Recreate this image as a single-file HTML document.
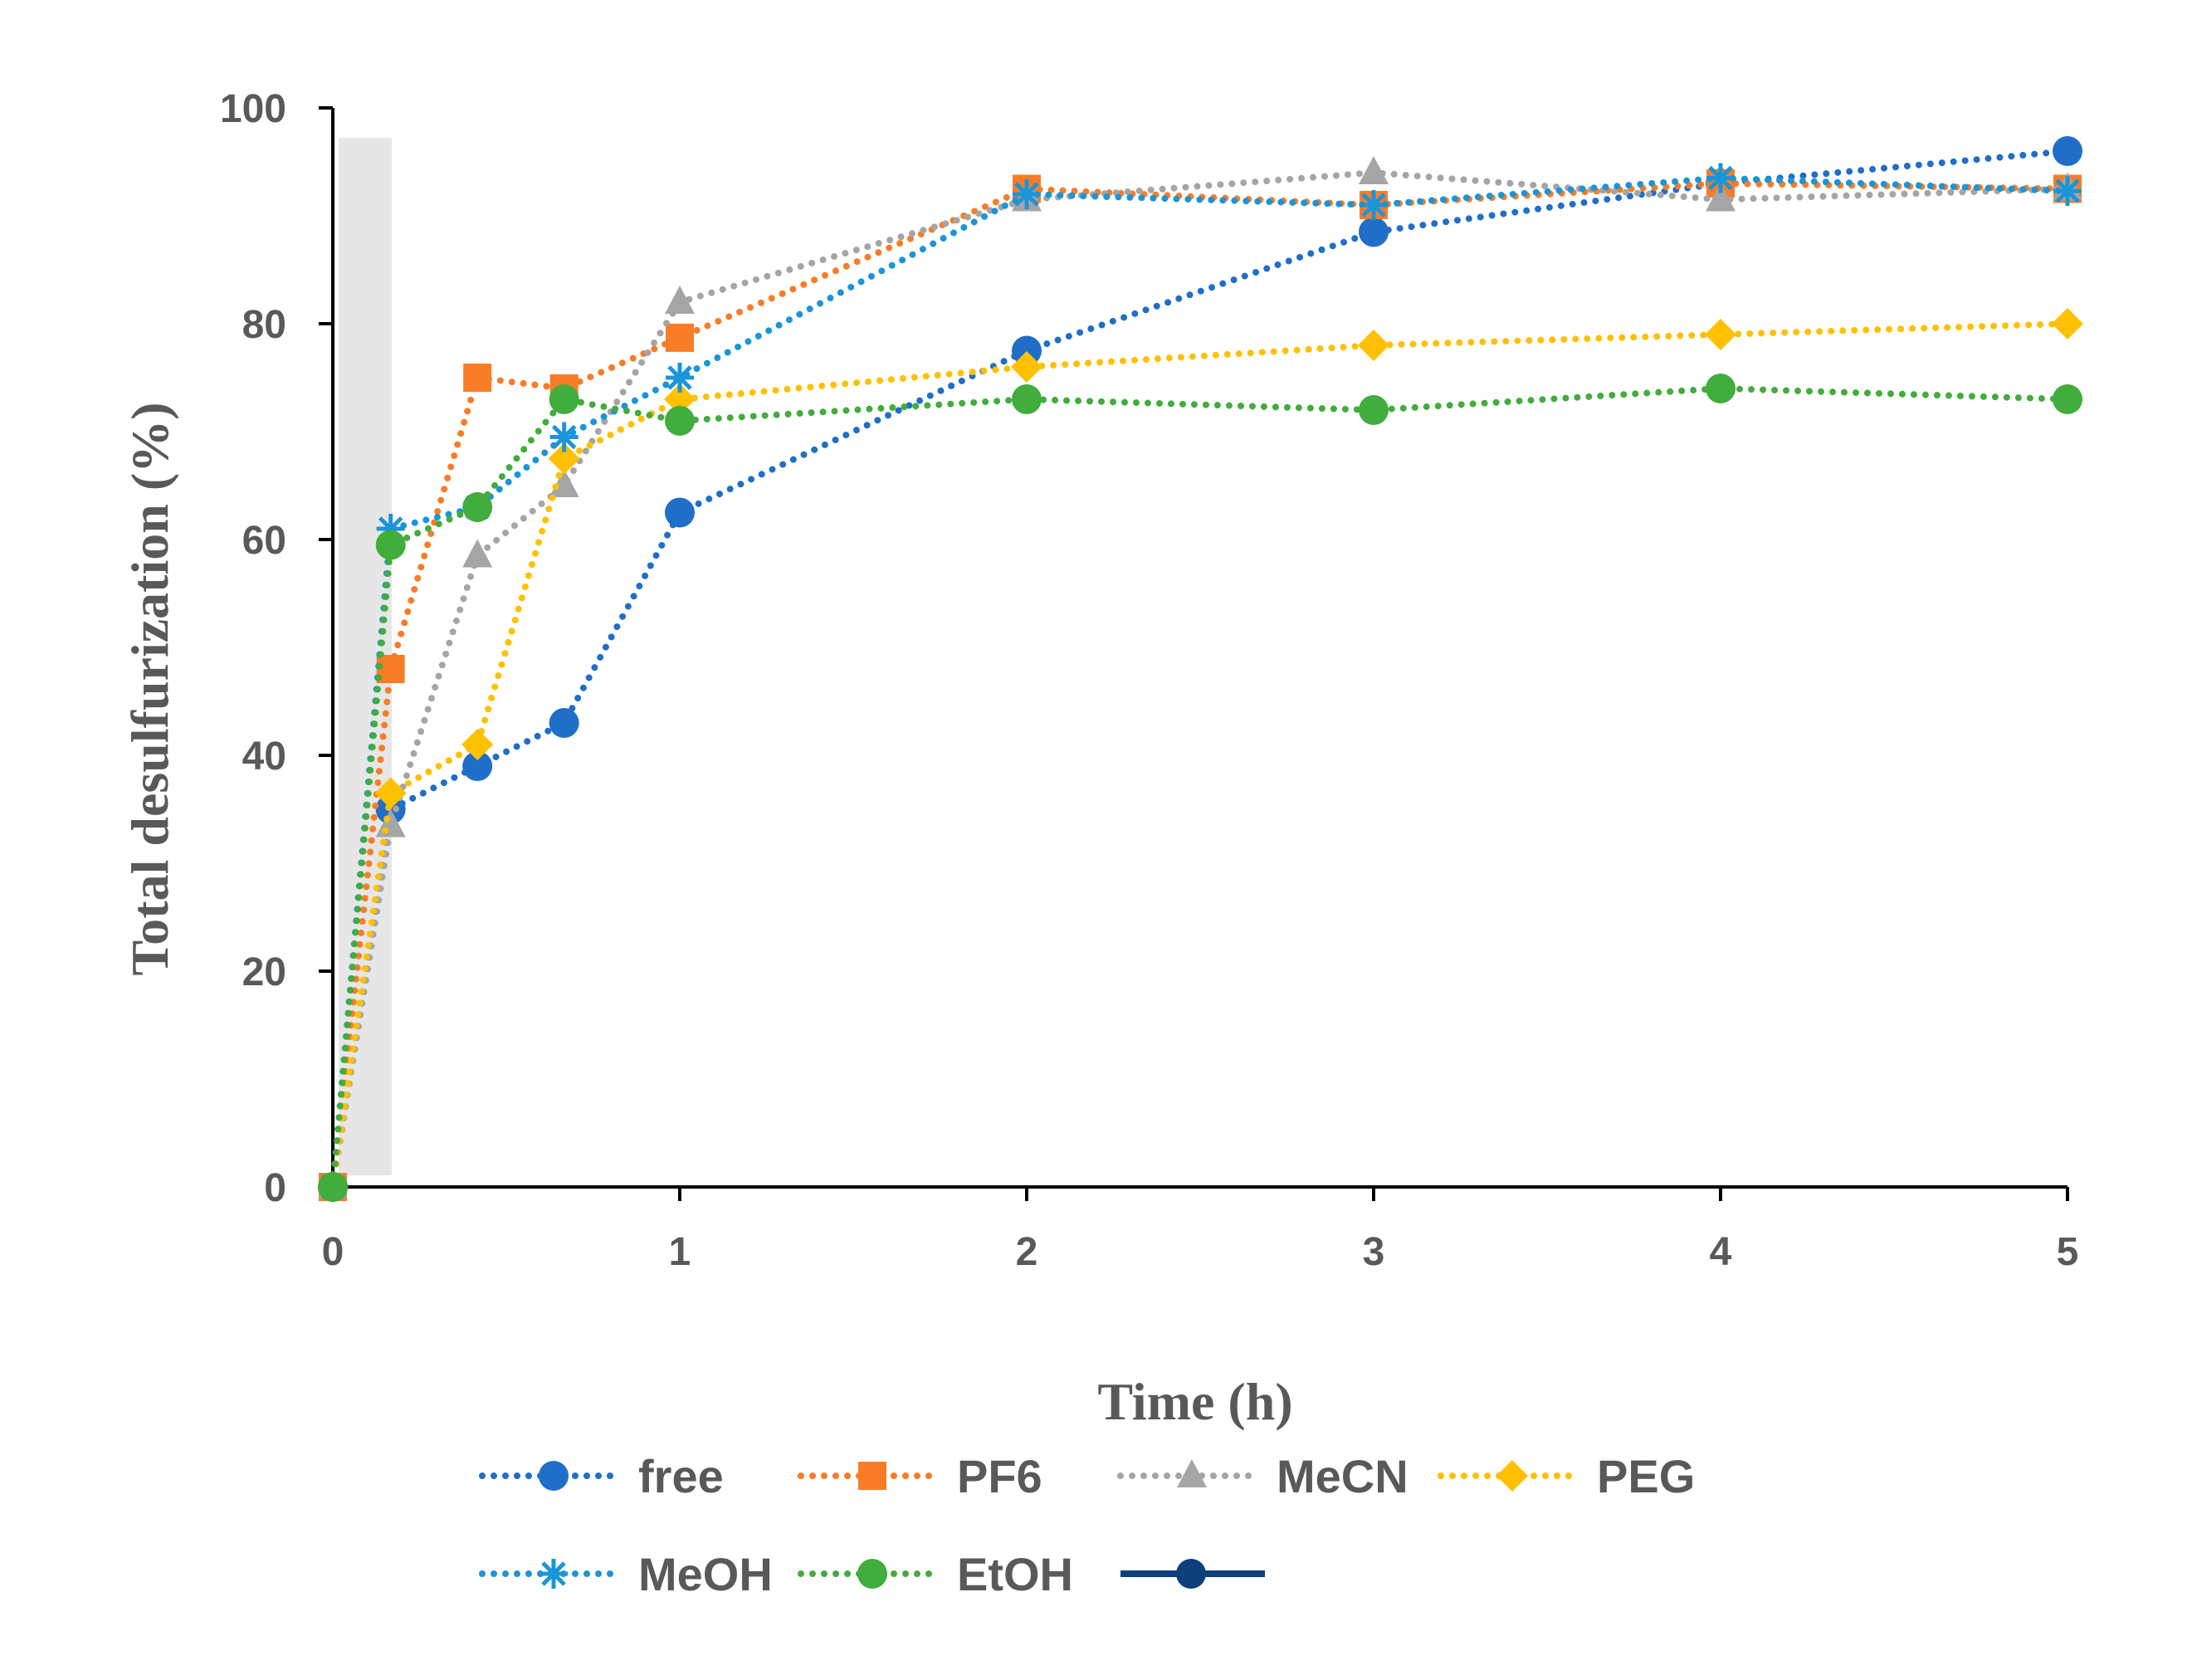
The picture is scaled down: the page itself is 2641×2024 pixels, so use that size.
<!DOCTYPE html>
<html><head><meta charset="utf-8"><style>
html,body{margin:0;padding:0;background:#fff}
svg{display:block}
.tick{font-family:"Liberation Sans",sans-serif;font-weight:bold;font-size:48px;fill:#595959}
.leg{font-family:"Liberation Sans",sans-serif;font-weight:bold;font-size:56px;fill:#595959}
.title{font-family:"Liberation Serif",serif;font-weight:bold;font-size:64px;fill:#595959}
</style></head><body>
<svg id="chart" width="2641" height="2024" viewBox="0 0 2641 2024" xmlns="http://www.w3.org/2000/svg">
<rect x="408" y="166" width="64" height="1250" fill="#e6e6e6"/>
<g id="axes"></g>
<g id="series"></g>
<text class="title" x="0" y="0" text-anchor="middle" transform="translate(202,830) rotate(-90)">Total desulfurization (%)</text>
<text class="title" x="1440" y="1710" text-anchor="middle">Time (h)</text>
<g id="legend"></g>
</svg>
<script>
const times = [0, 0.1667, 0.4167, 0.6667, 1, 2, 3, 4, 5];
const freeVals = [0, 35, 39, 43, 62.5, 77.5, 88.5, 93, 96];
const pf6Vals = [0, 48, 75, 74, 78.7, 92.5, 91, 93, 92.5];
const mecnVals = [0, 33.5, 58.5, 65, 82, 91.5, 94, 91.5, 92.5];
const pegVals = [0, 36.5, 41, 67.5, 73, 76, 78, 79, 80];
const meohVals = [0, 61, 63, 69.5, 75, 92, 91, 93.5, 92.3];
const etohVals = [0, 59.5, 63, 73, 71, 73, 72, 74, 73];
const xTicks = [0, 1, 2, 3, 4, 5];
const yTicks = [0, 20, 40, 60, 80, 100];
const seriesNames = ["free", "PF6", "MeCN", "PEG", "MeOH", "EtOH"];

const NS = "http://www.w3.org/2000/svg";
const X0 = 401, X1 = 2491, Y0 = 1430, Y1 = 130;
const xs = v => X0 + (v / 5) * (X1 - X0);
const ys = v => Y0 - (v / 100) * (Y0 - Y1);
function mk(tag, attrs, parent) {
  const e = document.createElementNS(NS, tag);
  for (const k in attrs) e.setAttribute(k, attrs[k]);
  parent.appendChild(e);
  return e;
}
const axes = document.getElementById("axes");
let l = mk("line", {x1: X0, y1: Y0, x2: X0, y2: Y1, stroke: "#000", "stroke-width": 4}, axes);


l = mk("line", {x1: X0, y1: Y0, x2: X1, y2: Y0, stroke: "#000", "stroke-width": 4}, axes);


yTicks.forEach(v => {
  mk("line", {x1: X0 - 17, y1: ys(v), x2: X0, y2: ys(v), stroke: "#000", "stroke-width": 4}, axes);
  const t = mk("text", {x: 345, y: ys(v) + 17, "text-anchor": "end", class: "tick"}, axes);
  t.textContent = v;
  
  
});
xTicks.forEach(v => {
  mk("line", {x1: xs(v), y1: Y0, x2: xs(v), y2: Y0 + 17, stroke: "#000", "stroke-width": 4}, axes);
  const t = mk("text", {x: xs(v), y: 1524, "text-anchor": "middle", class: "tick"}, axes);
  t.textContent = v;
  
  
});

function marker(type, color, cx, cy, parent) {
  let e;
  const r = 18;
  if (type === "circle") e = mk("circle", {cx, cy, r, fill: color}, parent);
  else if (type === "square") e = mk("rect", {x: cx - 17, y: cy - 17, width: 34, height: 34, fill: color}, parent);
  else if (type === "triangle") e = mk("polygon", {points: `${cx},${cy - 20} ${cx + 18},${cy + 14} ${cx - 18},${cy + 14}`, fill: color}, parent);
  else if (type === "diamond") e = mk("polygon", {points: `${cx},${cy - 19} ${cx + 19},${cy} ${cx},${cy + 19} ${cx - 19},${cy}`, fill: color}, parent);
  else {
    e = mk("g", {stroke: color, "stroke-width": 5}, parent);
    mk("line", {x1: cx - 17, y1: cy, x2: cx + 17, y2: cy}, e);
    mk("line", {x1: cx, y1: cy - 18, x2: cx, y2: cy + 18}, e);
    mk("line", {x1: cx - 13, y1: cy - 13, x2: cx + 13, y2: cy + 13}, e);
    mk("line", {x1: cx - 13, y1: cy + 13, x2: cx + 13, y2: cy - 13}, e);
  }
  return e;
}
const defs = [
  {vals: freeVals, color: "#1f6fc8", m: "circle"},
  {vals: pf6Vals, color: "#f97c26", m: "square"},
  {vals: mecnVals, color: "#a5a5a5", m: "triangle"},
  {vals: pegVals, color: "#ffc000", m: "diamond"},
  {vals: meohVals, color: "#1b95d8", m: "star"},
  {vals: etohVals, color: "#41ad3c", m: "circle"}
];
const sg = document.getElementById("series");
defs.forEach((d, i) => {
  const g = mk("g", {}, sg);
  
  
  const pts = d.vals.map((v, j) => xs(times[j]) + "," + ys(v)).join(" ");
  mk("polyline", {points: pts, fill: "none", stroke: d.color, "stroke-width": 8, "stroke-linecap": "round", "stroke-dasharray": "0 14"}, g);
  d.vals.forEach((v, j) => {
    const m = marker(d.m, d.color, xs(times[j]), ys(v), g);
    
    
  });
});
const lg = document.getElementById("legend");
const legPos = [[581, 1778], [965, 1778], [1350, 1778], [1736, 1778], [581, 1896], [965, 1896]];
defs.forEach((d, i) => {
  const [x, y] = legPos[i];
  const g = mk("g", {}, lg);
  
  
  mk("line", {x1: x, y1: y, x2: x + 165, y2: y, stroke: d.color, "stroke-width": 8, "stroke-linecap": "round", "stroke-dasharray": "0 14"}, g);
  marker(d.m, d.color, x + 86, y, g);
  const t = mk("text", {x: x + 188, y: y + 20, class: "leg"}, g);
  t.textContent = seriesNames[i];
});
const eg = mk("g", {}, lg);


mk("line", {x1: 1350, y1: 1896, x2: 1524, y2: 1896, stroke: "#0e3f7a", "stroke-width": 8}, eg);
mk("circle", {cx: 1435, cy: 1896, r: 18, fill: "#0e3f7a"}, eg);
</script>
</body></html>
